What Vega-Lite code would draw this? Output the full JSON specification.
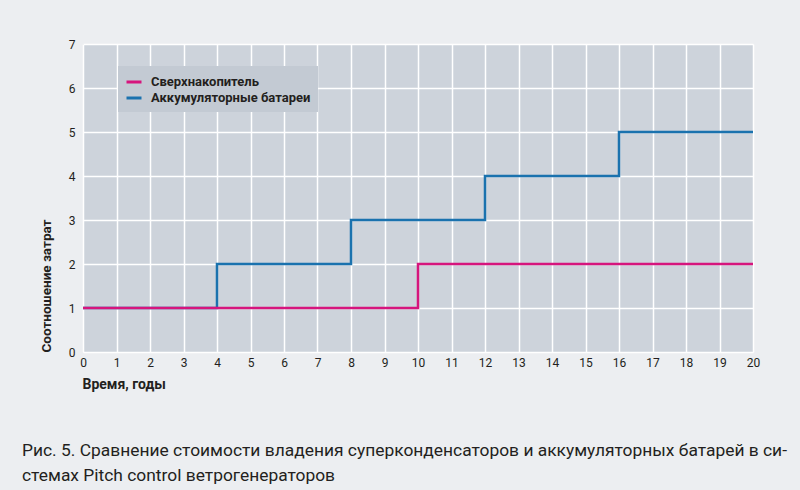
{
  "$schema": "https://vega.github.io/schema/vega-lite/v6.json",
  "width": 670,
  "height": 308,
  "autosize": {"type": "none"},
  "padding": {"left": 83, "top": 44, "right": 47, "bottom": 138},
  "background": "#eceef1",
  "config": {
    "view": {"fill": "#cdd3db", "stroke": null},
    "font": "Roboto, Liberation Sans, sans-serif"
  },
  "title": {
    "text": ["Рис. 5. Сравнение стоимости владения суперконденсаторов и аккумуляторных батарей в си-", "стемах Pitch control ветрогенераторов"],
    "orient": "bottom",
    "anchor": "start",
    "frame": "group",
    "dx": -61,
    "offset": 51,
    "fontSize": 17.4,
    "fontWeight": "normal",
    "lineHeight": 25,
    "color": "#231f20",
    "font": "Roboto, Liberation Sans, sans-serif"
  },
  "data": {
    "values": [
      {"t": 0, "v": 1, "s": "Аккумуляторные батареи"},
      {"t": 4, "v": 2, "s": "Аккумуляторные батареи"},
      {"t": 8, "v": 3, "s": "Аккумуляторные батареи"},
      {"t": 12, "v": 4, "s": "Аккумуляторные батареи"},
      {"t": 16, "v": 5, "s": "Аккумуляторные батареи"},
      {"t": 20, "v": 5, "s": "Аккумуляторные батареи"},
      {"t": 0, "v": 1, "s": "Сверхнакопитель"},
      {"t": 10, "v": 2, "s": "Сверхнакопитель"},
      {"t": 20, "v": 2, "s": "Сверхнакопитель"}
    ]
  },
  "mark": {"type": "line", "interpolate": "step-after", "strokeWidth": 2.5},
  "encoding": {
    "x": {
      "field": "t",
      "type": "quantitative",
      "scale": {"domain": [0, 20], "nice": false},
      "axis": {
        "values": [0,1,2,3,4,5,6,7,8,9,10,11,12,13,14,15,16,17,18,19,20],
        "format": "d",
        "title": "Время, годы",
        "titleFontSize": 14,
        "titleFontWeight": "bold",
        "titleColor": "#231f20",
        "titleAnchor": "start",
        "titleAlign": "left",
        "titleX": -1,
        "titleY": 39,
        "titleBaseline": "bottom",
        "labelFontSize": 12,
        "labelColor": "#231f20",
        "labelPadding": 5,
        "labelFlush": false,
        "ticks": false,
        "domain": false,
        "grid": true,
        "gridColor": "#ffffff",
        "gridWidth": 1.5,
        "gridOpacity": 1
      }
    },
    "y": {
      "field": "v",
      "type": "quantitative",
      "scale": {"domain": [0, 7], "nice": false},
      "axis": {
        "values": [0,0.5,1,1.5,2,2.5,3,3.5,4,4.5,5,5.5,6,6.5,7],
        "format": "d",
        "labelExpr": "datum.value % 1 ? '' : datum.label",
        "title": "Соотношение затрат",
        "titleFontSize": 13.5,
        "titleFontWeight": "bold",
        "titleColor": "#231f20",
        "titleAnchor": "start",
        "titleX": -30,
        "labelFontSize": 12,
        "labelColor": "#231f20",
        "labelPadding": 8,
        "labelBaseline": "middle",
        "labelFlush": false,
        "ticks": false,
        "domain": false,
        "grid": true,
        "gridColor": "#ffffff",
        "gridWidth": 1.5,
        "gridOpacity": 1
      }
    },
    "color": {
      "field": "s",
      "type": "nominal",
      "scale": {"domain": ["Сверхнакопитель", "Аккумуляторные батареи"], "range": ["#d6157d", "#1a72ae"]},
      "legend": {
        "title": null,
        "orient": "none",
        "legendX": 35,
        "legendY": 22,
        "fillColor": "#c3cad3",
        "padding": 7,
        "symbolType": "stroke",
        "symbolStrokeWidth": 3,
        "symbolSize": 225,
        "labelFontSize": 13,
        "labelFontWeight": "bold",
        "labelColor": "#231f20",
        "labelLimit": 300,
        "rowPadding": 0,
        "labelOffset": 8
      }
    }
  }
}
